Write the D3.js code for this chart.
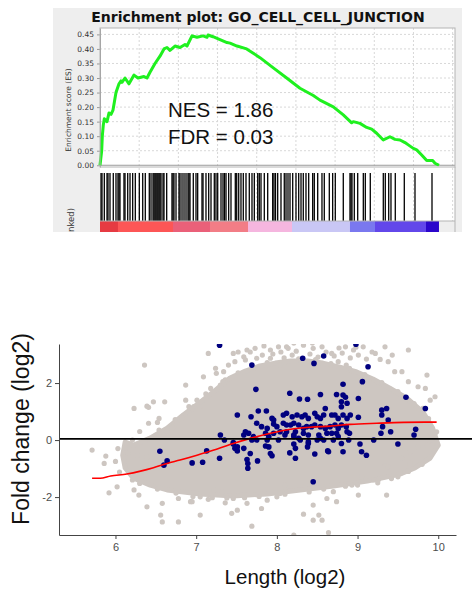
<!DOCTYPE html>
<html>
<head>
<meta charset="utf-8">
<script src="https://cdn.jsdelivr.net/npm/d3@7"></script>
<style>
body { margin: 0; background: #fff; }
svg { display: block; }
</style>
</head>
<body>
<svg id="chart" width="472" height="596"></svg>
<script>
// ---------- GSEA enrichment plot data ----------
var titleText = "Enrichment plot: GO_CELL_CELL_JUNCTION";
var statLines = ["NES = 1.86", "FDR = 0.03"];
var esTicks = [0, 0.05, 0.10, 0.15, 0.20, 0.25, 0.30, 0.35, 0.40, 0.45];
var gridRanks = [1000, 2000, 3000, 4000, 5000, 6000, 7000, 8000, 9000];
var esRank = [0, 43, 59, 84, 110, 179, 230, 281, 332, 370, 408, 485, 536, 561, 638, 740, 868, 970,
    1123, 1199, 1276, 1404, 1531, 1633, 1710, 1786, 1914, 2042, 2169, 2220, 2348, 2475, 2629, 2731,
    2756, 2884, 3062, 3241, 3318, 3496, 3743, 4083, 4423, 4764, 5104, 5444, 5614, 5954, 6209, 6423,
    6464, 6635, 6806, 6934, 7061, 7230, 7401, 7528, 7656, 7784, 7868, 7996, 8082, 8210, 8338, 8490,
    8549, 8651];
var esScore = [0, 0.05, 0.10, 0.138, 0.16, 0.15, 0.18, 0.175, 0.19, 0.22, 0.25, 0.28, 0.29, 0.285,
    0.30, 0.28, 0.31, 0.30, 0.305, 0.30, 0.32, 0.35, 0.375, 0.40, 0.405, 0.395, 0.41, 0.405, 0.415,
    0.41, 0.445, 0.44, 0.445, 0.44, 0.448, 0.442, 0.432, 0.422, 0.42, 0.41, 0.40, 0.37, 0.335, 0.30,
    0.265, 0.24, 0.224, 0.201, 0.173, 0.146, 0.150, 0.144, 0.130, 0.124, 0.110, 0.087, 0.098, 0.089,
    0.087, 0.078, 0.070, 0.058, 0.053, 0.035, 0.016, 0.016, 0.007, 0];
var hitRanks = [26, 51, 110, 179, 204, 255, 339, 408, 459, 485, 510, 612, 638, 707, 766, 834, 901,
    1003, 1090, 1156, 1258, 1302, 1353, 1378, 1404, 1429, 1455, 1480, 1506, 1531, 1557, 1608, 1633,
    1702, 1837, 1863, 1888, 1940, 2016, 2042, 2093, 2144, 2195, 2246, 2271, 2297, 2381, 2450, 2493,
    2603, 2629, 2705, 2774, 2833, 2917, 2960, 3004, 3088, 3139, 3177, 3216, 3284, 3343, 3453, 3489,
    3540, 3598, 3657, 3726, 3810, 3879, 3938, 4025, 4065, 4109, 4193, 4280, 4407, 4440, 4479, 4535,
    4619, 4703, 4747, 4798, 4849, 4918, 5002, 5071, 5130, 5188, 5257, 5326, 5428, 5469, 5556, 5665,
    5724, 5852, 5938, 6005, 6209, 6380, 6406, 6431, 6490, 6577, 6720, 6771, 6898, 7230, 7281, 7368,
    7426, 7536, 7766, 8039, 8473];
var barBreaks = [0, 459, 1863, 2807, 3777, 4900, 6380, 7018, 8320, 8651];
var barColors = ["#e63a42", "#fd5656", "#ea6079", "#f27d86", "#f5b6df", "#c9c7f5", "#7a78ef", "#6247ea", "#2b06cb"];

// ---------- length vs fold change data ----------
var lenTicks = [6, 7, 8, 9, 10];
var fcTicks = [-2, 0, 2];
var zeroLine = 0.04;
// outline of the densest part of the grey cloud
var coreHull = [[6.09, -0.53], [6.12, -0.07], [6.22, -0.18], [6.43, 0.07], [6.64, 0.42], [6.84, 0.88],
    [7.05, 1.33], [7.24, 1.75], [7.42, 2.18], [7.61, 2.42], [7.79, 2.60], [7.98, 2.70], [8.17, 2.77],
    [8.38, 2.77], [8.57, 2.70], [8.78, 2.56], [8.99, 2.39], [9.19, 2.14], [9.40, 1.82], [9.61, 1.47],
    [9.81, 0.98], [9.93, 0.42], [10.00, -0.18], [9.90, -0.63], [9.71, -0.98], [9.53, -1.19],
    [9.12, -1.44], [8.70, -1.61], [8.29, -1.75], [7.88, -1.89], [7.46, -1.96], [7.05, -1.89],
    [6.64, -1.75], [6.43, -1.58], [6.22, -1.33], [6.12, -0.98]];
var greyPts = [[6.36, 2.63], [6.87, 1.93], [6.23, 1.11], [6.39, 1.19], [6.41, 1.15], [6.47, 1.34],
    [6.61, 1.34], [6.54, 0.76], [6.72, 0.47], [6.76, 0.59], [6.83, 0.76], [6.87, 1.40], [6.91, 1.17],
    [6.97, 1.17], [6.41, 0.59], [6.54, 0.35], [6.64, 0.29], [6.70, 0.41], [5.71, -0.35], [5.88, -0.56],
    [6.12, -0.29], [6.16, -0.47], [6.27, -0.53], [6.21, 0], [6.39, -0.59], [6.47, -0.47], [6.68, -0.49],
    [5.86, -0.82], [5.92, -1.85], [6.02, -1.64], [6.21, -1.40], [6.23, -1.75], [6.29, -1.93],
    [6.39, -2.34], [6.58, -2.22], [6.56, -2.63], [6.58, -2.87], [6.78, -2.05], [6.78, -2.87],
    [6.93, -2.16], [6.95, -2.16], [7.05, -2.63], [7.05, -1.99], [7.15, -2.08], [7.22, -1.75],
    [7.32, -1.81], [7.36, -2.20], [7.46, -2.05], [7.44, -2.57], [7.51, -2.46], [7.63, -2.22],
    [7.69, -3.02], [7.81, -2.40], [7.88, -2.11], [8.00, -1.99], [8.04, -1.87], [8.10, -1.58],
    [8.21, -3.33], [8.33, -2.60], [8.45, -2.28], [8.45, -2.81], [8.52, -2.63], [8.56, -2.81],
    [8.62, -2.05], [8.64, -3.25], [8.70, -1.81], [8.74, -2.16], [8.93, -1.58], [9.01, -1.93],
    [9.05, -1.29], [9.20, -1.40], [9.26, -1.38], [9.36, -1.93], [9.34, -0.91], [9.38, -0.94],
    [9.50, -1.29], [9.53, -1.17], [9.55, -0.64], [9.65, -0.82], [9.65, -0.41], [9.75, -0.24],
    [9.86, -0.18], [9.92, -0.18],
    [7.15, 3.04], [7.25, 2.34], [7.34, 2.40], [7.46, 3.04], [7.48, 2.75], [7.59, 2.92], [7.61, 2.81],
    [7.73, 3.22], [7.75, 2.87], [7.92, 3.16], [7.92, 2.87], [8.02, 3.27], [8.04, 2.63], [8.12, 3.27],
    [8.14, 3.22], [8.29, 2.81], [8.33, 3.33], [8.45, 3.22], [8.56, 3.27], [8.68, 3.04], [8.76, 2.75],
    [8.85, 3.27], [8.95, 3.16], [9.07, 3.27], [9.22, 3.04], [9.34, 3.27], [9.38, 2.75], [9.28, 2.83],
    [9.63, 3.16], [9.46, 2.40], [9.55, 2.40], [9.63, 2.05], [9.75, 1.87], [9.84, 1.81], [9.86, 2.28],
    [9.96, 1.52], [9.98, 0.29], [9.96, 0.24], [9.81, 1.11], [9.90, 1.40], [7.01, 1.40], [7.05, 1.17],
    [7.18, 1.81], [7.30, 1.93], [7.24, 2.52], [7.09, 2.22], [7.40, 2.63], [7.36, 2.11],
    [7.67, 3.09], [7.82, 2.98], [8.19, 2.98], [8.24, 3.12], [8.41, 3.02], [8.51, 2.91], [8.61, 3.09],
    [8.71, 2.95], [8.81, 3.05], [8.91, 2.88], [9.01, 2.98], [9.11, 2.84], [8.21, 3.40], [8.44, 3.40],
    [7.63, 3.16], [8.05, 3.09], [7.95, 3.02], [8.77, 3.23], [8.98, 3.26], [7.84, 3.30], [7.52, 3.09],
    [9.18, 3.09], [9.43, 2.98], [8.09, 2.88], [8.36, 2.74], [8.86, 2.63],
    // points along the edge of the dense cloud
    [6.30, 0.30], [6.52, 0.62], [6.74, 0.72], [6.95, 1.10], [7.12, 1.62], [7.33, 2.05], [7.52, 2.36],
    [7.70, 2.58], [7.88, 2.72], [8.27, 2.85], [8.48, 2.82], [8.67, 2.68], [8.90, 2.52], [9.09, 2.30],
    [9.30, 2.02], [9.50, 1.70], [9.70, 1.28], [9.88, 0.75], [6.30, -1.52], [6.52, -1.72],
    [6.75, -1.86], [6.96, -1.98], [7.20, -2.02], [7.38, -2.03], [7.60, -2.02], [7.78, -1.98],
    [8.10, -1.90], [8.40, -1.82], [8.58, -1.72], [8.85, -1.62], [9.00, -1.58], [9.25, -1.50],
    [9.42, -1.35], [9.63, -1.10], [9.80, -0.85], [6.05, -1.12], [6.00, -0.75], [6.03, -0.30]];
var bluePts = [[7.29, 3.33], [8.98, 3.36], [8.32, 2.87], [8.46, 2.69], [8.58, 2.95], [7.69, 2.63],
    [9.13, 2.57], [9.06, 2.05], [8.82, 1.96], [7.74, 1.78], [8.16, 1.64], [8.54, 1.60], [8.74, 1.60],
    [8.82, 1.58], [8.85, 1.50], [9.01, 1.46], [9.60, 1.50], [8.28, 1.44], [8.38, 1.43], [8.80, 1.34],
    [8.80, 1.17], [8.87, 1.29], [8.60, 1.11], [7.77, 1.02], [7.87, 1.02], [7.51, 0.88], [7.68, 0.82],
    [7.94, 0.76], [7.96, 0.70], [8.08, 0.88], [8.12, 0.94], [8.19, 0.82], [8.25, 0.88], [8.31, 0.82],
    [8.35, 0.88], [8.39, 0.76], [8.47, 0.94], [8.50, 0.82], [8.54, 0.76], [8.58, 0.88], [8.68, 0.88],
    [8.72, 0.88], [8.76, 0.76], [8.82, 0.88], [8.87, 0.76], [8.91, 0.88], [9.01, 0.80], [9.30, 1.05],
    [9.36, 1.11], [9.30, 0.88], [9.38, 0.70], [9.84, 1.11], [7.75, 0.59], [7.81, 0.47], [7.88, 0.41],
    [7.96, 0.56], [8.00, 0.47], [8.08, 0.59], [8.12, 0.53], [8.17, 0.53], [8.21, 0.59], [8.27, 0.53],
    [8.33, 0.41], [8.37, 0.47], [8.43, 0.47], [8.47, 0.53], [8.54, 0.47], [8.60, 0.41], [8.66, 0.47],
    [8.72, 0.53], [8.76, 0.41], [8.80, 0.53], [8.86, 0.47], [7.61, 0.29], [7.59, 0.18], [7.65, 0.24],
    [7.71, 0.12], [7.86, 0.24], [7.90, 0.12], [7.96, 0.24], [8.04, 0.29], [8.10, 0.18], [8.12, 0.29],
    [8.21, 0.18], [8.23, 0.29], [8.33, 0.24], [8.39, 0.18], [8.52, 0.18], [8.54, 0.06], [8.62, 0.24],
    [8.68, 0.24], [8.74, 0.24], [8.76, 0.12], [8.87, 0.29], [8.90, 0.24], [9.31, 0.47], [9.29, 0.24],
    [9.41, 0.29], [9.72, 0.38], [9.70, 0.18], [7.30, 0.18], [8.21, 0.12], [8.27, 0.06],
    [7.35, 0], [7.46, -0.14], [7.51, -0.24], [7.51, -0.38], [7.69, 0], [7.75, 0], [7.88, 0], [8.02, 0],
    [8.29, 0], [8.39, -0.06], [8.50, 0], [8.58, 0], [8.70, 0], [8.89, 0], [9.03, -0.14], [9.20, 0],
    [9.50, -0.14], [7.59, -0.29], [7.67, -0.47], [7.90, -0.24], [7.92, -0.47], [8.16, -0.45],
    [8.23, -0.64], [8.39, -0.12], [8.38, -0.24], [8.47, -0.49], [8.63, -0.38], [8.80, -0.12],
    [8.82, -0.41], [9.05, -0.41], [9.11, -0.53], [7.13, -0.38], [7.29, -0.64], [7.46, -0.09],
    [6.55, -0.39], [6.60, -0.88], [6.64, -0.73], [6.95, -0.80], [7.08, -0.78], [7.63, -0.68],
    [7.64, -0.82], [7.64, -0.99], [7.76, -0.73], [7.94, -0.55], [8.45, -1.46], [7.48, -0.29],
    [7.86, -0.21], [8.64, -0.41], [8.21, -0.14], [8.23, -0.29]];
var loessLen = [5.71, 5.81, 5.94, 6.14, 6.31, 6.47, 6.64, 6.80, 7.01, 7.22, 7.46, 7.67, 7.92, 8.17,
    8.41, 8.66, 8.91, 9.24, 9.57, 9.98];
var loessFc = [-1.34, -1.34, -1.26, -1.19, -1.09, -0.97, -0.82, -0.70, -0.53, -0.35, -0.12, 0.06,
    0.24, 0.38, 0.45, 0.49, 0.55, 0.59, 0.62, 0.63];

var svg = d3.select("#chart");

// ================= top: enrichment plot =================
var gx = d3.scaleLinear().domain([0, 9060]).range([100, 455]);
var gy = d3.scaleLinear().domain([-0.006, 0.472]).range([167, 28]);
var hitTop = 173, hitBottom = 221, barBottom = 232;

var defs = svg.append("defs");
defs.append("clipPath").attr("id", "panelClip")
    .append("rect").attr("x", 53).attr("y", 8).attr("width", 409).attr("height", 224);

svg.append("rect")
    .attr("x", 53).attr("y", 8).attr("width", 409).attr("height", 224)
    .attr("fill", "#eeeeee");

svg.append("text")
    .attr("x", 258).attr("y", 22)
    .attr("text-anchor", "middle")
    .style("font-family", "DejaVu Sans").style("font-weight", "bold").style("font-size", "14px")
    .attr("fill", "#111")
    .text(titleText);

// white plot areas
svg.append("rect")
    .attr("x", gx.range()[0]).attr("y", gy.range()[1])
    .attr("width", gx.range()[1] - gx.range()[0]).attr("height", hitBottom - gy.range()[1])
    .attr("fill", "#fff");

// grid
svg.selectAll(".vgrid")
    .data(gridRanks)
    .enter()
    .append("line")
    .attr("class", "vgrid")
    .attr("x1", function (d) { return gx(d); })
    .attr("x2", function (d) { return gx(d); })
    .attr("y1", gy.range()[1])
    .attr("y2", hitBottom)
    .attr("stroke", "#d8d8d8")
    .attr("stroke-dasharray", "2,2");

svg.selectAll(".hgrid")
    .data(esTicks.slice(1))
    .enter()
    .append("line")
    .attr("class", "hgrid")
    .attr("x1", gx.range()[0])
    .attr("x2", gx.range()[1])
    .attr("y1", function (d) { return gy(d); })
    .attr("y2", function (d) { return gy(d); })
    .attr("stroke", "#d8d8d8")
    .attr("stroke-dasharray", "2,2");

// zero line
svg.append("line")
    .attr("x1", gx.range()[0]).attr("x2", gx.range()[1])
    .attr("y1", gy(0)).attr("y2", gy(0))
    .attr("stroke", "#9a9a9a");

// ES axis
var esAxis = svg.append("g")
    .attr("transform", "translate(" + gx.range()[0] + ",0)")
    .call(d3.axisLeft(gy).tickValues(esTicks).tickFormat(d3.format(".2f")).tickSize(3).tickSizeOuter(0));
esAxis.select(".domain").attr("stroke", "#999");
esAxis.selectAll(".tick line").attr("stroke", "#999");
esAxis.selectAll("text")
    .style("font-family", "DejaVu Sans").style("font-size", "7.5px").attr("fill", "#333");

svg.append("text")
    .attr("transform", "translate(71,110) rotate(-90)")
    .attr("text-anchor", "middle")
    .style("font-family", "DejaVu Sans").style("font-size", "7.5px")
    .attr("fill", "#333")
    .text("Enrichment score (ES)");

// rank metric label, cut off by the panel edge
svg.append("g")
    .attr("clip-path", "url(#panelClip)")
    .append("text")
    .attr("transform", "translate(74,208) rotate(-90)")
    .attr("text-anchor", "end")
    .style("font-family", "DejaVu Sans").style("font-size", "8.5px")
    .attr("fill", "#333")
    .text("Ranked list metric (PreRanked)");

// ES curve
var esLine = d3.line()
    .x(function (d, i) { return gx(esRank[i]); })
    .y(function (d) { return gy(d); });
svg.append("path")
    .datum(esScore)
    .attr("d", esLine)
    .attr("fill", "none")
    .attr("stroke", "#1ff01f")
    .attr("stroke-width", 3)
    .attr("stroke-linejoin", "round");

// stats
svg.selectAll(".stat")
    .data(statLines)
    .enter()
    .append("text")
    .attr("class", "stat")
    .attr("x", 168)
    .attr("y", function (d, i) { return 117 + i * 26.5; })
    .style("font-family", "Liberation Sans, Arial, sans-serif").style("font-size", "20.5px")
    .attr("fill", "#111")
    .text(function (d) { return d; });

// hits
svg.selectAll(".hit")
    .data(hitRanks)
    .enter()
    .append("line")
    .attr("class", "hit")
    .attr("x1", function (d) { return gx(d); })
    .attr("x2", function (d) { return gx(d); })
    .attr("y1", hitTop)
    .attr("y2", hitBottom)
    .attr("stroke", "#000")
    .attr("stroke-width", 1.3);

// ranked list colour bar
svg.selectAll(".bar")
    .data(barColors)
    .enter()
    .append("rect")
    .attr("class", "bar")
    .attr("x", function (d, i) { return gx(barBreaks[i]); })
    .attr("width", function (d, i) { return gx(barBreaks[i + 1]) - gx(barBreaks[i]); })
    .attr("y", hitBottom)
    .attr("height", barBottom - hitBottom)
    .attr("fill", function (d) { return d; });

// panel borders
svg.append("rect")
    .attr("x", gx.range()[0]).attr("y", gy.range()[1])
    .attr("width", gx.range()[1] - gx.range()[0]).attr("height", gy.range()[0] - gy.range()[1])
    .attr("fill", "none").attr("stroke", "#b4b4b4");
svg.append("line")
    .attr("x1", gx.range()[1]).attr("x2", gx.range()[1])
    .attr("y1", gy.range()[0]).attr("y2", barBottom)
    .attr("stroke", "#b4b4b4");
svg.append("line")
    .attr("x1", gx.range()[0]).attr("x2", gx.range()[1])
    .attr("y1", hitBottom).attr("y2", hitBottom)
    .attr("stroke", "#b4b4b4");

// ================= bottom: length vs fold change =================
var sx = d3.scaleLinear().domain([5.3, 10.22]).range([59, 456]);
var sy = d3.scaleLinear().domain([-3.33, 3.37]).range([535, 344]);

defs.append("clipPath").attr("id", "scatterClip")
    .append("rect").attr("x", 59).attr("y", 344).attr("width", 413).attr("height", 191);

var pts = svg.append("g").attr("clip-path", "url(#scatterClip)");

pts.append("path")
    .datum(coreHull)
    .attr("d", d3.line()
        .x(function (d) { return sx(d[0]); })
        .y(function (d) { return sy(d[1]); })
        .curve(d3.curveLinearClosed))
    .attr("fill", "#cdc6c1")
    .attr("stroke", "#cdc6c1")
    .attr("stroke-width", 5)
    .attr("stroke-linejoin", "round");

pts.selectAll(".grey")
    .data(greyPts)
    .enter()
    .append("circle")
    .attr("class", "grey")
    .attr("cx", function (d) { return sx(d[0]); })
    .attr("cy", function (d) { return sy(d[1]); })
    .attr("r", 2.6)
    .attr("fill", "#cdc6c1");

pts.selectAll(".blue")
    .data(bluePts)
    .enter()
    .append("circle")
    .attr("class", "blue")
    .attr("cx", function (d) { return sx(d[0]); })
    .attr("cy", function (d) { return sy(d[1]); })
    .attr("r", 2.8)
    .attr("fill", "#00007f");

pts.append("path")
    .datum(loessFc)
    .attr("d", d3.line()
        .x(function (d, i) { return sx(loessLen[i]); })
        .y(function (d) { return sy(d); })
        .curve(d3.curveMonotoneX))
    .attr("fill", "none")
    .attr("stroke", "#ff0000")
    .attr("stroke-width", 1.6);

svg.append("line")
    .attr("x1", sx.range()[0]).attr("x2", 472)
    .attr("y1", sy(zeroLine)).attr("y2", sy(zeroLine))
    .attr("stroke", "#000")
    .attr("stroke-width", 1.8);

var yAx = svg.append("g")
    .attr("transform", "translate(" + sx.range()[0] + ",0)")
    .call(d3.axisLeft(sy).tickValues(fcTicks).tickSize(4).tickSizeOuter(0).tickPadding(3)
        .tickFormat(function (d) { return d < 0 ? "-" + (-d) : String(d); }));
var xAx = svg.append("g")
    .attr("transform", "translate(0," + sy.range()[0] + ")")
    .call(d3.axisBottom(sx).tickValues(lenTicks).tickSize(4).tickSizeOuter(0).tickPadding(4)
        .tickFormat(d3.format("d")));
[yAx, xAx].forEach(function (a) {
    a.select(".domain").attr("stroke", "#444");
    a.selectAll(".tick line").attr("stroke", "#444");
    a.selectAll("text")
        .style("font-family", "Liberation Sans, Arial, sans-serif").style("font-size", "11px")
        .attr("fill", "#4d4d4d");
});

svg.append("text")
    .attr("x", 285).attr("y", 584)
    .attr("text-anchor", "middle")
    .style("font-family", "Liberation Sans, Arial, sans-serif").style("font-size", "20.5px")
    .attr("fill", "#111")
    .text("Length (log2)");

svg.append("text")
    .attr("transform", "translate(29,429) rotate(-90)")
    .attr("text-anchor", "middle")
    .style("font-family", "Liberation Sans, Arial, sans-serif").style("font-size", "23px")
    .attr("fill", "#111")
    .text("Fold change (log2)");
</script>
</body>
</html>
